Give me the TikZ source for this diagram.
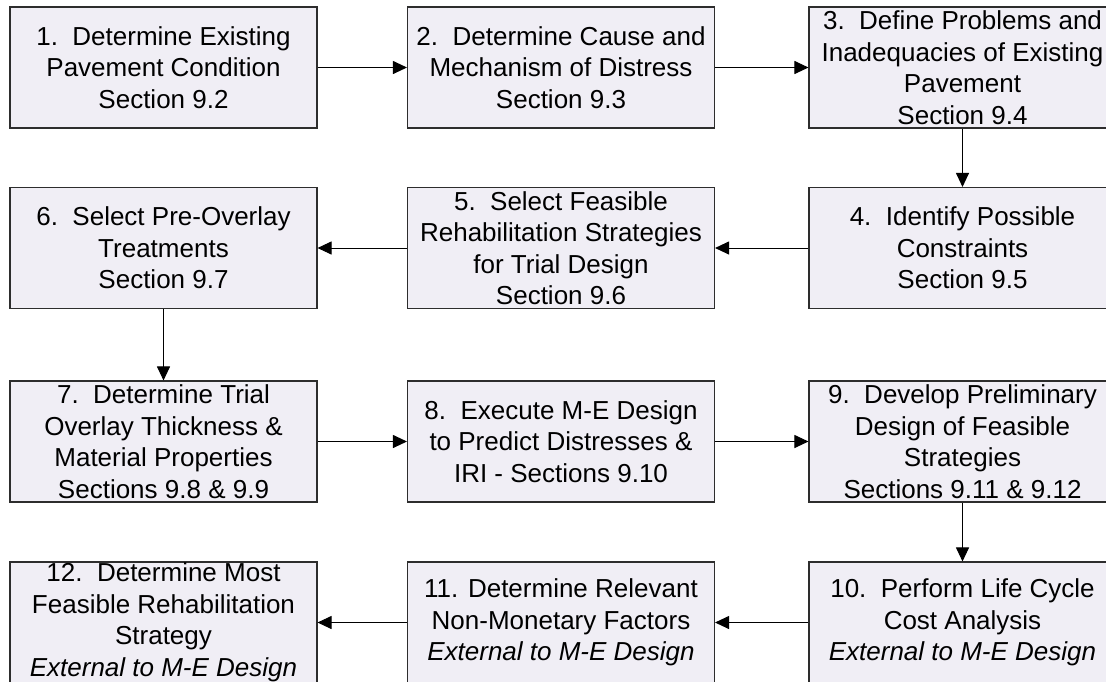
\documentclass[tikz,border=0pt]{standalone}
\usepackage{fontspec}
\setmainfont{Liberation Sans}
\usetikzlibrary{arrows.meta}
\definecolor{boxfill}{RGB}{240,238,245}
\definecolor{boxline}{RGB}{45,45,45}
\begin{document}
\begin{tikzpicture}[x=1pt,y=-1pt,
  stepbox/.style={draw=boxline, line width=1.1pt, fill=boxfill, minimum width=307pt, minimum height=121pt,
    inner sep=0pt, align=center, font=\fontsize{26}{31.5}\selectfont},
  flow/.style={draw=black, line width=1pt, -{Triangle[length=14pt,width=13pt]}}]
\useasboundingbox (0,0) rectangle (1106,681);
\clip (0,0) rectangle (1106,681);
\fill[white] (0,0) rectangle (1106,681);
% row 1
\node[stepbox] (n1) at (163.5,67.5) {1.\ \ Determine Existing\\Pavement Condition\\Section 9.2};
\node[stepbox] (n2) at (561,67.5) {2.\ \ Determine Cause and\\Mechanism of Distress\\Section 9.3};
\node[stepbox] (n3) at (962.5,67.5) {3.\ \ Define Problems and\\Inadequacies of Existing\\Pavement\\Section 9.4};
% row 2
\node[stepbox] (n6) at (163.5,248) {6.\ \ Select Pre-Overlay\\Treatments\\Section 9.7};
\node[stepbox] (n5) at (561,248) {5.\ \ Select Feasible\\Rehabilitation Strategies\\for Trial Design\\Section 9.6};
\node[stepbox] (n4) at (962.5,248) {4.\ \ Identify Possible\\Constraints\\Section 9.5};
% row 3
\node[stepbox] (n7) at (163.5,441.5) {7.\ \ Determine Trial\\Overlay Thickness \&\\Material Properties\\Sections 9.8 \& 9.9};
\node[stepbox] (n8) at (561,441.5) {8.\ \ Execute M-E Design\\to Predict Distresses \&\\IRI - Sections 9.10};
\node[stepbox] (n9) at (962.5,441.5) {9.\ \ Develop Preliminary\\Design of Feasible\\Strategies\\Sections 9.11 \& 9.12};
% row 4
\node[stepbox] (n12) at (163.5,622.5) {12.\ \ Determine Most\\Feasible Rehabilitation\\Strategy\\\textit{External to M-E Design}};
\node[stepbox] (n11) at (561,622.5) {11. Determine Relevant\\Non-Monetary Factors\\\textit{External to M-E Design}};
\node[stepbox] (n10) at (962.5,622.5) {10.\ \ Perform Life Cycle\\Cost Analysis\\\textit{External to M-E Design}};
% connectors
\draw[flow] (n1) -- (n2);
\draw[flow] (n2) -- (n3);
\draw[flow] (n3) -- (n4);
\draw[flow] (n4) -- (n5);
\draw[flow] (n5) -- (n6);
\draw[flow] (n6) -- (n7);
\draw[flow] (n7) -- (n8);
\draw[flow] (n8) -- (n9);
\draw[flow] (n9) -- (n10);
\draw[flow] (n10) -- (n11);
\draw[flow] (n11) -- (n12);
\end{tikzpicture}
\end{document}
